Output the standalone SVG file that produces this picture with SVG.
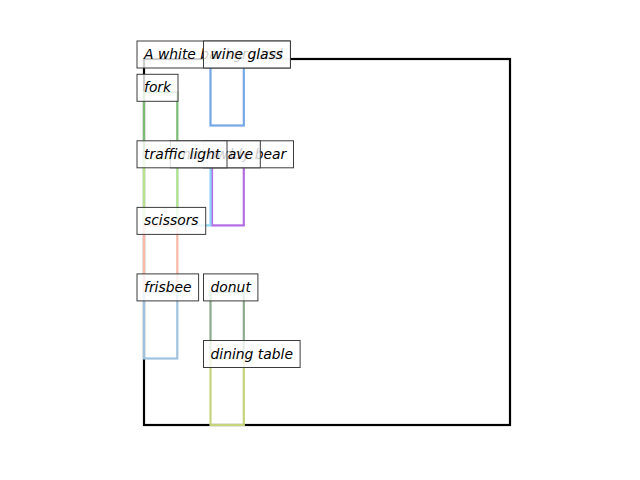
<svg xmlns="http://www.w3.org/2000/svg" width="640" height="480" viewBox="0 0 640 480">
<style>
.bb{fill:none;stroke-width:2.2}
.lbl rect{fill:#ffffff;fill-opacity:0.8;stroke:#3c3c3c;stroke-width:1}
.lbl text{font-family:"DejaVu Sans",sans-serif;font-style:italic;font-size:13.89px;fill:#000000}
</style>
<rect width="640" height="480" fill="#ffffff"/>
<g id="boxes">
  <rect id="box-image" class="bb" x="144" y="59" width="366" height="366" stroke="#000000" stroke-width="2.2"/>
  <rect id="box-wine-glass" class="bb" x="210.5" y="59" width="33.3" height="66.5" stroke="#76a7e6"/>
  <rect id="box-fork" class="bb" x="144" y="92.3" width="33.3" height="66.5" stroke="#7cbb75"/>
  <rect id="box-teddy-bear" class="bb" x="212" y="158.8" width="31.8" height="66.6" stroke="#b46de3"/>
  <rect id="box-microwave" class="bb" x="177.3" y="158.8" width="33.2" height="66.6" stroke="#8fd6f6"/>
  <rect id="box-traffic-light" class="bb" x="144" y="158.8" width="33.3" height="66.6" stroke="#b7e38d"/>
  <rect id="box-scissors" class="bb" x="144" y="225.4" width="33.3" height="66.5" stroke="#f7b9a6"/>
  <rect id="box-frisbee" class="bb" x="144" y="291.9" width="33.3" height="66.6" stroke="#9fc2de"/>
  <rect id="box-donut" class="bb" x="210.5" y="291.9" width="33.3" height="66.6" stroke="#8cab8c"/>
  <rect id="box-dining-table" class="bb" x="210.5" y="358.5" width="33.3" height="66.5" stroke="#c6d47c"/>
</g>
<g id="connectors"/>
<g id="image-caption" class="lbl">
  <rect x="137" y="41" width="153" height="27"/>
  <text x="144" y="59">A white background</text>
</g>
<g id="wine-glass" class="lbl">
  <rect x="203.5" y="41" width="87" height="27"/>
  <text x="210.5" y="59">wine glass</text>
</g>
<g id="fork" class="lbl">
  <rect x="137" y="74.3" width="41" height="27"/>
  <text x="144" y="92.3">fork</text>
</g>
<g id="teddy-bear" class="lbl">
  <rect x="203.5" y="140.8" width="90" height="27"/>
  <text x="210.5" y="158.8">teddy bear</text>
</g>
<g id="microwave" class="lbl">
  <rect x="170.3" y="140.8" width="90" height="27"/>
  <text x="177.3" y="158.8">microwave</text>
</g>
<g id="traffic-light" class="lbl">
  <rect x="137" y="140.8" width="90" height="27"/>
  <text x="144" y="158.8">traffic light</text>
</g>
<g id="scissors" class="lbl">
  <rect x="137" y="207.4" width="68.7" height="27"/>
  <text x="144" y="225.4">scissors</text>
</g>
<g id="frisbee" class="lbl">
  <rect x="137" y="273.9" width="61.6" height="27"/>
  <text x="144" y="291.9">frisbee</text>
</g>
<g id="donut" class="lbl">
  <rect x="203.5" y="273.9" width="54.4" height="27"/>
  <text x="210.5" y="291.9">donut</text>
</g>
<g id="dining-table" class="lbl">
  <rect x="203.5" y="340.5" width="96.6" height="27"/>
  <text x="210.5" y="358.5">dining table</text>
</g>
</svg>
